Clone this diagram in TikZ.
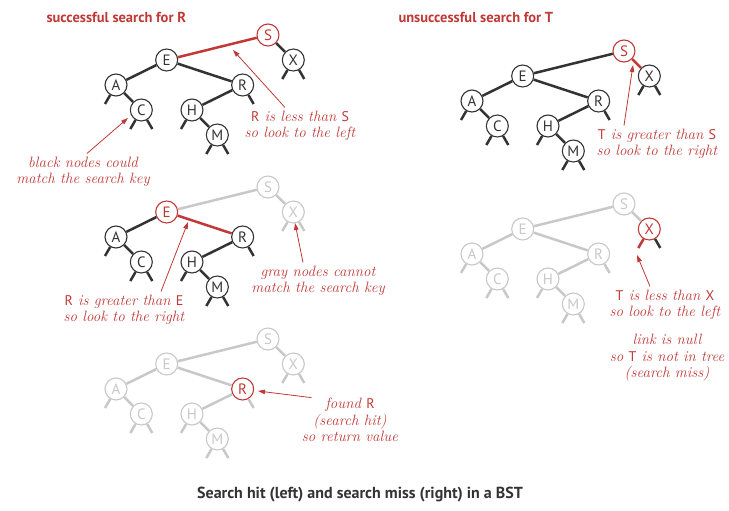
\documentclass[tikz,border=0pt]{standalone}
\usepackage{fontspec}
\setsansfont{PT Sans}
\usetikzlibrary{arrows.meta}
\definecolor{hit}{RGB}{192,57,54}
\definecolor{ink}{RGB}{51,51,51}
\definecolor{faded}{RGB}{200,200,200}
\newcommand{\ltr}[1]{{\sffamily\upshape\fontsize{14}{16}\selectfont #1}}
% one BST: prefix, origin, style overrides
\newcommand{\bsttree}[3]{%
\begin{scope}[shift={#2},tone/.style=blk,#3]
\foreach \n/\i/\lev in %
{A/0/2,C/1/3,E/2/1,H/3/3,M/4/4,R/5/2,S/6/0,X/7/1} {
   \node[key,tone,n\n/.try] (#1\n) at (\i*25.33,\lev*25) {\n};
}
\foreach \pa/\ch in {S/E,S/X,E/A,E/R,A/C,R/H,H/M} {
   \draw[link,tone,e\pa\ch/.try] (#1\pa) -- (#1\ch);
}
\foreach \n/\side/\dx in %
{A/l/-11,C/l/-11,C/r/11,H/l/-11,M/l/-11,M/r/11,R/r/11,X/l/-11,X/r/11} {
   \draw[link,tone,s\n\side/.try] (#1\n) -- +(\dx,19);
}
\end{scope}}

\begin{document}
\begin{tikzpicture}[x=1pt,y=-1pt,key/.style={circle,minimum size=22pt,inner sep=0pt,fill=white,line width=1.1pt,font=\sffamily\fontsize{15}{15}\selectfont},link/.style={line width=2.5pt},blk/.style={draw=ink,text=ink},gry/.style={draw=faded,text=faded},hot/.style={draw=hit,text=hit},note/.style={text=hit,align=center,font=\itshape\fontsize{15}{16.5}\selectfont},head/.style={text=hit,font=\sffamily\bfseries\fontsize{14.5}{14.5}\selectfont},pointer/.style={draw=hit,line width=0.8pt,-{Triangle[length=7pt,width=4.5pt]}}]
\useasboundingbox (0,0) rectangle (729,511);
\node[head,anchor=base west] (hitttl) at (43,23) {successful search for R};
\node[head,anchor=base west] (missttl) at (395,23) {unsuccessful search for T};

\bsttree{a}{(116,35)}{nS/.style=hot,eSE/.style=hot}
\bsttree{b}{(472,51)}{nS/.style=hot,eSX/.style=hot}
\bsttree{c}{(116,187)}{nS/.style=gry,nX/.style=gry,eSE/.style=gry,eSX/.style=gry,%
   sXl/.style=gry,sXr/.style=gry,nE/.style=hot,eER/.style=hot}
\bsttree{d}{(472,204)}{tone/.style=gry,nX/.style=hot,sXl/.style=hot,sXr/.style=blk}
\bsttree{e}{(116,339)}{tone/.style=gry,nR/.style=hot}

% notes
\node[note] (lessS) at (300,126) {\ltr{R} is less than \ltr{S}\\so look to the left};
\node[note] (blacknote) at (83,172) {black nodes could\\match the search key};
\node[note] (greaterS) at (657,144) {\ltr{T} is greater than \ltr{S}\\so look to the right};
\node[note] (greaterE) at (124,310) {\ltr{R} is greater than \ltr{E}\\so look to the right};
\node[note] (graynote) at (318,281) {gray nodes cannot\\match the search key};
\node[note] (lessX) at (665,305) {\ltr{T} is less than \ltr{X}\\so look to the left};
\node[note] (nullnote) at (667,358) {link is null\\so \ltr{T} is not in tree\\(search miss)};
\node[note] (foundR) at (350,420) {found \ltr{R}\\(search hit)\\so return value};

\coordinate (lessStip) at (233,50);
\coordinate (blacktip) at (128,118);
\coordinate (greaterStip) at (633,65);
\coordinate (greaterEtip) at (188,222);
\coordinate (graytip) at (295,223);
\coordinate (lessXtip) at (637,255);
\coordinate (foundtip) at (258,391);
\draw[pointer] ([xshift=-15pt]lessS.north) -- (lessStip);
\draw[pointer] ([xshift=4pt]blacknote.north) -- (blacktip);
\draw[pointer] ([xshift=-33pt]greaterS.north) -- (greaterStip);
\draw[pointer] ([xshift=37pt]greaterE.north) -- (greaterEtip);
\draw[pointer] ([xshift=-15pt]graynote.north) -- (graytip);
\draw[pointer] ([xshift=-15pt]lessX.north) -- (lessXtip);
\draw[pointer] ([xshift=13pt,yshift=-3pt]foundR.north west) -- (foundtip);

\node[text=ink,anchor=base,font=\sffamily\bfseries\fontsize{16}{16}\selectfont] (caption) at (360,498) {Search hit (left) and search miss (right) in a BST};
\end{tikzpicture}
\end{document}
